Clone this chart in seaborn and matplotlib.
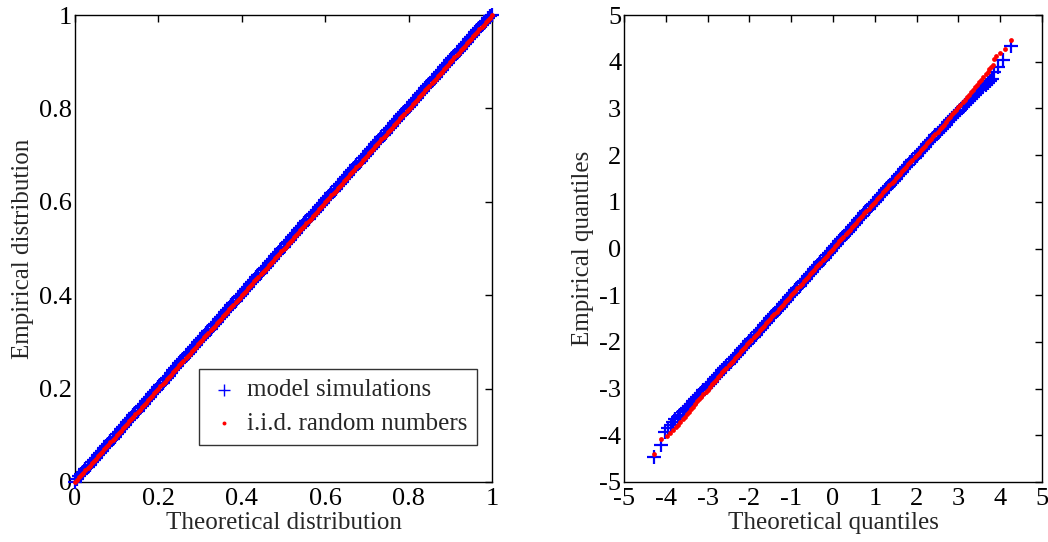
import matplotlib
matplotlib.use("Agg")
import matplotlib.pyplot as plt
import seaborn as sns
import pandas as pd

# ---------------- data ----------------
pp_theory = [
    0.000, 0.005, 0.010, 0.015, 0.020, 0.025, 0.030, 0.035, 0.040, 0.045,
    0.050, 0.055, 0.060, 0.065, 0.070, 0.075, 0.080, 0.085, 0.090, 0.095,
    0.100, 0.105, 0.110, 0.115, 0.120, 0.125, 0.130, 0.135, 0.140, 0.145,
    0.150, 0.155, 0.160, 0.165, 0.170, 0.175, 0.180, 0.185, 0.190, 0.195,
    0.200, 0.205, 0.210, 0.215, 0.220, 0.225, 0.230, 0.235, 0.240, 0.245,
    0.250, 0.255, 0.260, 0.265, 0.270, 0.275, 0.280, 0.285, 0.290, 0.295,
    0.300, 0.305, 0.310, 0.315, 0.320, 0.325, 0.330, 0.335, 0.340, 0.345,
    0.350, 0.355, 0.360, 0.365, 0.370, 0.375, 0.380, 0.385, 0.390, 0.395,
    0.400, 0.405, 0.410, 0.415, 0.420, 0.425, 0.430, 0.435, 0.440, 0.445,
    0.450, 0.455, 0.460, 0.465, 0.470, 0.475, 0.480, 0.485, 0.490, 0.495,
    0.500, 0.505, 0.510, 0.515, 0.520, 0.525, 0.530, 0.535, 0.540, 0.545,
    0.550, 0.555, 0.560, 0.565, 0.570, 0.575, 0.580, 0.585, 0.590, 0.595,
    0.600, 0.605, 0.610, 0.615, 0.620, 0.625, 0.630, 0.635, 0.640, 0.645,
    0.650, 0.655, 0.660, 0.665, 0.670, 0.675, 0.680, 0.685, 0.690, 0.695,
    0.700, 0.705, 0.710, 0.715, 0.720, 0.725, 0.730, 0.735, 0.740, 0.745,
    0.750, 0.755, 0.760, 0.765, 0.770, 0.775, 0.780, 0.785, 0.790, 0.795,
    0.800, 0.805, 0.810, 0.815, 0.820, 0.825, 0.830, 0.835, 0.840, 0.845,
    0.850, 0.855, 0.860, 0.865, 0.870, 0.875, 0.880, 0.885, 0.890, 0.895,
    0.900, 0.905, 0.910, 0.915, 0.920, 0.925, 0.930, 0.935, 0.940, 0.945,
    0.950, 0.955, 0.960, 0.965, 0.970, 0.975, 0.980, 0.985, 0.990, 0.995,
    1.000]
pp_model = [
    0.001, 0.007, 0.012, 0.017, 0.022, 0.027, 0.032, 0.037, 0.042, 0.047,
    0.052, 0.057, 0.062, 0.067, 0.072, 0.077, 0.082, 0.087, 0.092, 0.097,
    0.103, 0.108, 0.113, 0.118, 0.123, 0.128, 0.133, 0.138, 0.143, 0.148,
    0.153, 0.158, 0.163, 0.168, 0.173, 0.178, 0.183, 0.188, 0.193, 0.198,
    0.203, 0.208, 0.213, 0.218, 0.223, 0.228, 0.234, 0.239, 0.244, 0.249,
    0.254, 0.259, 0.264, 0.269, 0.274, 0.279, 0.284, 0.289, 0.294, 0.299,
    0.304, 0.309, 0.313, 0.318, 0.323, 0.328, 0.333, 0.338, 0.343, 0.348,
    0.353, 0.358, 0.363, 0.368, 0.373, 0.378, 0.383, 0.388, 0.393, 0.398,
    0.403, 0.408, 0.413, 0.418, 0.423, 0.428, 0.433, 0.438, 0.443, 0.448,
    0.453, 0.458, 0.463, 0.468, 0.473, 0.478, 0.483, 0.488, 0.493, 0.498,
    0.504, 0.509, 0.514, 0.519, 0.524, 0.529, 0.534, 0.539, 0.544, 0.549,
    0.554, 0.559, 0.564, 0.569, 0.573, 0.578, 0.583, 0.588, 0.593, 0.598,
    0.603, 0.608, 0.613, 0.618, 0.623, 0.628, 0.633, 0.638, 0.643, 0.648,
    0.653, 0.658, 0.663, 0.668, 0.673, 0.678, 0.683, 0.688, 0.693, 0.698,
    0.703, 0.708, 0.713, 0.718, 0.723, 0.728, 0.733, 0.738, 0.743, 0.748,
    0.753, 0.758, 0.763, 0.768, 0.773, 0.778, 0.783, 0.788, 0.793, 0.798,
    0.803, 0.808, 0.813, 0.818, 0.823, 0.828, 0.833, 0.838, 0.843, 0.848,
    0.853, 0.858, 0.863, 0.868, 0.873, 0.878, 0.883, 0.888, 0.893, 0.898,
    0.903, 0.908, 0.913, 0.918, 0.923, 0.928, 0.933, 0.938, 0.943, 0.948,
    0.953, 0.958, 0.963, 0.968, 0.973, 0.978, 0.983, 0.988, 0.993, 0.997,
    1.000]
pp_iid = [
    0.000, 0.005, 0.010, 0.015, 0.020, 0.025, 0.030, 0.035, 0.040, 0.045,
    0.050, 0.055, 0.060, 0.065, 0.070, 0.075, 0.080, 0.085, 0.090, 0.095,
    0.100, 0.105, 0.110, 0.115, 0.120, 0.125, 0.130, 0.135, 0.140, 0.145,
    0.150, 0.155, 0.160, 0.165, 0.170, 0.175, 0.180, 0.185, 0.190, 0.195,
    0.200, 0.205, 0.210, 0.215, 0.220, 0.225, 0.230, 0.235, 0.240, 0.245,
    0.250, 0.255, 0.260, 0.265, 0.270, 0.275, 0.280, 0.285, 0.290, 0.295,
    0.300, 0.305, 0.310, 0.315, 0.320, 0.325, 0.330, 0.335, 0.340, 0.345,
    0.350, 0.355, 0.360, 0.365, 0.370, 0.375, 0.380, 0.385, 0.390, 0.395,
    0.400, 0.405, 0.410, 0.415, 0.420, 0.425, 0.430, 0.435, 0.440, 0.445,
    0.449, 0.454, 0.459, 0.464, 0.469, 0.474, 0.479, 0.484, 0.489, 0.494,
    0.499, 0.504, 0.509, 0.514, 0.519, 0.524, 0.529, 0.534, 0.539, 0.544,
    0.549, 0.554, 0.559, 0.564, 0.569, 0.574, 0.579, 0.584, 0.589, 0.594,
    0.599, 0.604, 0.609, 0.614, 0.619, 0.624, 0.629, 0.634, 0.639, 0.644,
    0.649, 0.654, 0.659, 0.664, 0.669, 0.674, 0.679, 0.684, 0.689, 0.694,
    0.699, 0.704, 0.709, 0.714, 0.719, 0.724, 0.729, 0.734, 0.739, 0.744,
    0.749, 0.754, 0.759, 0.764, 0.769, 0.774, 0.779, 0.784, 0.789, 0.794,
    0.799, 0.804, 0.809, 0.814, 0.819, 0.824, 0.829, 0.834, 0.839, 0.844,
    0.849, 0.854, 0.859, 0.864, 0.869, 0.874, 0.879, 0.884, 0.889, 0.894,
    0.899, 0.904, 0.909, 0.914, 0.919, 0.924, 0.929, 0.934, 0.939, 0.944,
    0.949, 0.954, 0.959, 0.964, 0.969, 0.974, 0.979, 0.984, 0.989, 0.994,
    1.000]

qq_theory = [
    -3.70, -3.65, -3.60, -3.55, -3.50, -3.45, -3.40, -3.35, -3.30, -3.25,
    -3.20, -3.15, -3.10, -3.05, -3.00, -2.95, -2.90, -2.85, -2.80, -2.75,
    -2.70, -2.65, -2.60, -2.55, -2.50, -2.45, -2.40, -2.35, -2.30, -2.25,
    -2.20, -2.15, -2.10, -2.05, -2.00, -1.95, -1.90, -1.85, -1.80, -1.75,
    -1.70, -1.65, -1.60, -1.55, -1.50, -1.45, -1.40, -1.35, -1.30, -1.25,
    -1.20, -1.15, -1.10, -1.05, -1.00, -0.95, -0.90, -0.85, -0.80, -0.75,
    -0.70, -0.65, -0.60, -0.55, -0.50, -0.45, -0.40, -0.35, -0.30, -0.25,
    -0.20, -0.15, -0.10, -0.05, 0.00, 0.05, 0.10, 0.15, 0.20, 0.25,
    0.30, 0.35, 0.40, 0.45, 0.50, 0.55, 0.60, 0.65, 0.70, 0.75,
    0.80, 0.85, 0.90, 0.95, 1.00, 1.05, 1.10, 1.15, 1.20, 1.25,
    1.30, 1.35, 1.40, 1.45, 1.50, 1.55, 1.60, 1.65, 1.70, 1.75,
    1.80, 1.85, 1.90, 1.95, 2.00, 2.05, 2.10, 2.15, 2.20, 2.25,
    2.30, 2.35, 2.40, 2.45, 2.50, 2.55, 2.60, 2.65, 2.70, 2.75,
    2.80, 2.85, 2.90, 2.95, 3.00, 3.05, 3.10, 3.15, 3.20, 3.25,
    3.30, 3.35, 3.40, 3.45, 3.50, 3.55, 3.60, 3.65, 3.70]
qq_model = [
    -3.600, -3.555, -3.510, -3.465, -3.420, -3.370, -3.320, -3.275, -3.230, -3.180,
    -3.130, -3.085, -3.040, -2.990, -2.940, -2.895, -2.850, -2.800, -2.750, -2.705,
    -2.660, -2.610, -2.560, -2.515, -2.470, -2.420, -2.370, -2.325, -2.280, -2.230,
    -2.180, -2.135, -2.090, -2.040, -1.990, -1.940, -1.895, -1.845, -1.795, -1.745,
    -1.695, -1.645, -1.595, -1.545, -1.495, -1.445, -1.395, -1.345, -1.295, -1.245,
    -1.195, -1.145, -1.095, -1.045, -0.995, -0.945, -0.895, -0.845, -0.795, -0.745,
    -0.695, -0.645, -0.595, -0.545, -0.495, -0.445, -0.395, -0.345, -0.295, -0.245,
    -0.195, -0.145, -0.095, -0.045, 0.005, 0.055, 0.105, 0.155, 0.205, 0.255,
    0.300, 0.350, 0.400, 0.450, 0.500, 0.550, 0.600, 0.650, 0.700, 0.750,
    0.800, 0.850, 0.900, 0.950, 0.995, 1.045, 1.095, 1.145, 1.195, 1.245,
    1.295, 1.345, 1.395, 1.445, 1.495, 1.545, 1.595, 1.645, 1.695, 1.745,
    1.795, 1.845, 1.895, 1.945, 1.990, 2.040, 2.090, 2.135, 2.180, 2.230,
    2.280, 2.325, 2.370, 2.420, 2.470, 2.515, 2.560, 2.605, 2.650, 2.700,
    2.750, 2.795, 2.840, 2.885, 2.930, 2.975, 3.020, 3.065, 3.110, 3.155,
    3.200, 3.245, 3.290, 3.340, 3.390, 3.430, 3.470, 3.510, 3.550]
qq_iid = [
    -3.770, -3.715, -3.660, -3.605, -3.550, -3.495, -3.440, -3.385, -3.330, -3.275,
    -3.220, -3.170, -3.120, -3.070, -3.020, -2.965, -2.910, -2.860, -2.810, -2.755,
    -2.700, -2.650, -2.600, -2.550, -2.500, -2.450, -2.400, -2.350, -2.300, -2.250,
    -2.200, -2.150, -2.100, -2.050, -2.000, -1.950, -1.900, -1.850, -1.800, -1.750,
    -1.700, -1.650, -1.600, -1.550, -1.500, -1.450, -1.400, -1.350, -1.300, -1.250,
    -1.200, -1.150, -1.100, -1.050, -1.000, -0.950, -0.900, -0.850, -0.800, -0.750,
    -0.700, -0.650, -0.600, -0.550, -0.500, -0.450, -0.400, -0.350, -0.300, -0.250,
    -0.200, -0.150, -0.100, -0.050, 0.000, 0.050, 0.100, 0.150, 0.200, 0.250,
    0.300, 0.350, 0.400, 0.450, 0.500, 0.550, 0.600, 0.650, 0.700, 0.750,
    0.800, 0.850, 0.900, 0.950, 1.000, 1.050, 1.100, 1.150, 1.200, 1.250,
    1.300, 1.350, 1.400, 1.450, 1.500, 1.550, 1.600, 1.650, 1.700, 1.750,
    1.800, 1.850, 1.900, 1.950, 2.000, 2.050, 2.100, 2.150, 2.200, 2.250,
    2.300, 2.350, 2.400, 2.450, 2.500, 2.550, 2.600, 2.650, 2.710, 2.765,
    2.820, 2.870, 2.920, 2.975, 3.030, 3.080, 3.130, 3.185, 3.240, 3.295,
    3.350, 3.400, 3.450, 3.505, 3.560, 3.615, 3.670, 3.730, 3.790]

model_tail_x = [-4.28, -4.12, -4.02, -3.94, -3.88, -3.82, -3.78,
                3.76, 3.80, 3.86, 3.95, 4.07, 4.27]
model_tail_y = [-4.47, -4.21, -3.94, -3.85, -3.78, -3.71, -3.65,
                3.58, 3.62, 3.79, 3.89, 4.04, 4.33]
iid_tail_x = [-4.28, -4.12, -3.98, -3.90, -3.82, -3.76,
              3.74, 3.78, 3.82, 3.86, 3.90, 4.00, 4.11, 4.26]
iid_tail_y = [-4.40, -4.08, -4.01, -3.96, -3.89, -3.83,
              3.84, 3.89, 3.94, 4.05, 4.12, 4.19, 4.27, 4.47]

series_names = ["model simulations", "i.i.d. random numbers"]
pp_ticks = [0, 0.2, 0.4, 0.6, 0.8, 1]
pp_ticklabels = ["0", "0.2", "0.4", "0.6", "0.8", "1"]
qq_ticks = [-5, -4, -3, -2, -1, 0, 1, 2, 3, 4, 5]
qq_ticklabels = ["-5", "-4", "-3", "-2", "-1", "0", "1", "2", "3", "4", "5"]

# ---------------- style ----------------
sns.set_style("white")
plt.rcParams["font.family"] = ["Liberation Serif", "DejaVu Serif"]
plt.rcParams["font.size"] = 18
plt.rcParams["axes.unicode_minus"] = False

fig = plt.figure(figsize=(10.48, 5.42), dpi=100)
W, H = 1048, 542
ax1 = fig.add_axes([75 / W, (H - 482) / H, (492 - 75) / W, (482 - 15) / H])
ax2 = fig.add_axes([624 / W, (H - 482) / H, (1042 - 624) / W, (482 - 15) / H])

blue = (0, 0, 1)
red = (1, 0, 0)
plus_kw = dict(marker="+", color=blue, s=110, linewidth=1.6, clip_on=False, zorder=3)
dot_kw = dict(marker="o", color=red, s=12, linewidth=0, clip_on=False, zorder=4)

# left: P-P plot
pp_df_model = pd.DataFrame({"x": pp_theory, "y": pp_model})
pp_df_iid = pd.DataFrame({"x": pp_theory, "y": pp_iid})
sns.scatterplot(data=pp_df_model, x="x", y="y", ax=ax1, label=series_names[0], **plus_kw)
sns.scatterplot(data=pp_df_iid, x="x", y="y", ax=ax1, label=series_names[1], **dot_kw)

# right: Q-Q plot
qq_df_model = pd.DataFrame({"x": qq_theory + model_tail_x, "y": qq_model + model_tail_y})
qq_df_iid = pd.DataFrame({"x": qq_theory + iid_tail_x, "y": qq_iid + iid_tail_y})
sns.scatterplot(data=qq_df_model, x="x", y="y", ax=ax2, legend=False, **plus_kw)
sns.scatterplot(data=qq_df_iid, x="x", y="y", ax=ax2, legend=False, **dot_kw)

for ax, ticks, labels, lim in [(ax1, pp_ticks, pp_ticklabels, (0, 1)),
                               (ax2, qq_ticks, qq_ticklabels, (-5, 5))]:
    ax.set_xlim(*lim)
    ax.set_ylim(*lim)
    ax.set_xticks(ticks)
    ax.set_xticklabels(labels)
    ax.set_yticks(ticks)
    ax.set_yticklabels(labels)
    ax.tick_params(direction="in", length=5, width=1, top=True, right=True,
                   labelsize=19, colors="black")
    ax.tick_params(axis="y", pad=2)
    ax.tick_params(axis="x", pad=4)
    for sp in ax.spines.values():
        sp.set_visible(True)
        sp.set_color("black")
        sp.set_linewidth(1)

ax1.set_xlabel("Theoretical distribution", fontsize=18, labelpad=2)
ax1.set_ylabel("Empirical distribution", fontsize=18, labelpad=4)
ax2.set_xlabel("Theoretical quantiles", fontsize=18, labelpad=2)
ax2.set_ylabel("Empirical quantiles", fontsize=18, labelpad=4)

leg = ax1.legend(loc="lower right", bbox_to_anchor=((477 - 75) / 417, (482 - 445) / 467),
                 borderaxespad=0, frameon=True, fancybox=False, framealpha=1,
                 edgecolor="#333333", fontsize=18, handletextpad=0.3,
                 borderpad=0.4, labelspacing=0.45, handlelength=1.2)
leg.get_frame().set_linewidth(1)
leg.legend_handles[0].set_sizes([80])
leg.legend_handles[0].set_linewidth(1.0)
leg.legend_handles[1].set_sizes([8])

fig.savefig("out.png", dpi=100)
